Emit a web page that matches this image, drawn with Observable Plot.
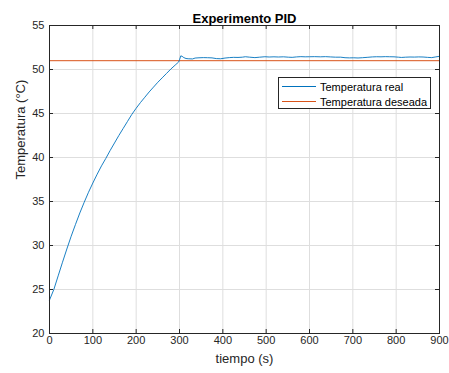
<!DOCTYPE html>
<html>
<head>
<meta charset="utf-8">
<script src="https://cdn.jsdelivr.net/npm/d3@7"></script>
<script src="https://cdn.jsdelivr.net/npm/@observablehq/plot@0.6"></script>
<style>
  body { margin: 0; background: #fff; font-family: "Liberation Sans", Arial, sans-serif; }
  #wrap { position: relative; width: 449px; height: 373px; }
  .legend { position: absolute; left: 278px; top: 77px; width: 153px; height: 32px; box-sizing: border-box;
            border: 1px solid #262626; background: #fff; padding-top: 1px; font-size: 11px; color: #000; }
  .row { display: flex; align-items: center; height: 15px; }
  .sw { width: 34px; height: 0; margin-left: 3px; margin-right: 4px; border-top: 1px solid; }
</style>
</head>
<body>
<div id="wrap"></div>
<script>
// ---- data ----
const title = "Experimento PID";
const xLabel = "tiempo (s)";
const yLabel = "Temperatura (°C)";
const seriesNames = ["Temperatura real", "Temperatura deseada"];
const seriesColors = ["#0072BD", "#D95319"];
const xTicks = [0, 100, 200, 300, 400, 500, 600, 700, 800, 900];
const yTicks = [20, 25, 30, 35, 40, 45, 50, 55];
const setpoint = 51;

const tiempo = [
  0, 10, 20, 30, 40, 50, 60, 70, 80, 90,
  100, 110, 120, 130, 140, 150, 160, 170, 180, 190,
  200, 210, 220, 230, 240, 250, 260, 270, 280, 290,
  298, 300, 303, 306, 310, 315, 320, 330, 336, 345,
  355, 365, 375, 385, 395, 405, 415, 425, 435, 445,
  452, 462, 474, 485, 497, 507, 518, 528, 540, 551,
  560, 570, 580, 590, 600, 612, 625, 637, 648, 660,
  672, 682, 692, 702, 712, 722, 733, 745, 755, 765,
  775, 785, 795, 805, 812, 822, 832, 842, 852, 862,
  872, 882, 890, 900
];
const temperatura = [
  23.8, 25.0, 26.55, 28.1, 29.6, 31.05, 32.4, 33.7, 34.9, 36.05,
  37.1, 38.1, 39.05, 39.9, 40.8, 41.65, 42.5, 43.3, 44.1, 44.9,
  45.6, 46.25, 46.85, 47.45, 48.0, 48.55, 49.05, 49.55, 50.05, 50.5,
  50.85, 51.1, 51.55, 51.5, 51.35, 51.25, 51.22, 51.2, 51.3, 51.33,
  51.35, 51.34, 51.32, 51.24, 51.22, 51.3, 51.35, 51.38, 51.37, 51.4,
  51.45, 51.4, 51.35, 51.4, 51.45, 51.42, 51.44, 51.42, 51.44, 51.4,
  51.38, 51.43, 51.46, 51.44, 51.45, 51.46, 51.44, 51.46, 51.43, 51.4,
  51.4, 51.34, 51.32, 51.33, 51.31, 51.34, 51.38, 51.43, 51.45, 51.44,
  51.46, 51.45, 51.44, 51.4, 51.37, 51.4, 51.42, 51.41, 51.43, 51.42,
  51.38, 51.35, 51.42, 51.5
];

const data = tiempo.map((t, i) => ({t, v: temperatura[i]}));

const W = 449, H = 373, mt = 25, mb = 40, ml = 49, mr = 10;
const pw = W - ml - mr, ph = H - mt - mb;
const ink = "#262626";

const chart = Plot.plot({
  width: W, height: H,
  marginTop: mt, marginBottom: mb, marginLeft: ml, marginRight: mr,
  style: { fontFamily: "'Liberation Sans', Arial, sans-serif", fontSize: "11px", color: ink, background: "white" },
  x: { domain: [0, 900], label: null },
  y: { domain: [20, 55], label: null },
  marks: [
    Plot.gridX(xTicks, { stroke: "#dedede", strokeOpacity: 1 }),
    Plot.gridY(yTicks, { stroke: "#dedede", strokeOpacity: 1 }),
    Plot.axisX(xTicks, { tickSize: 0, tickPadding: 3, label: null, fontSize: 11, fill: ink }),
    Plot.axisY(yTicks, { tickSize: 0, tickPadding: 5, label: null, fontSize: 11, fill: ink }),
    Plot.tickX(xTicks, { x: d => d, insetTop: ph - 4, stroke: ink }),
    Plot.tickX(xTicks, { x: d => d, insetBottom: ph - 4, stroke: ink }),
    Plot.tickY(yTicks, { y: d => d, insetRight: pw - 4, stroke: ink }),
    Plot.tickY(yTicks, { y: d => d, insetLeft: pw - 4, stroke: ink }),
    Plot.ruleY([setpoint], { stroke: seriesColors[1], strokeWidth: 1 }),
    Plot.line(data, { x: "t", y: "v", stroke: seriesColors[0], strokeWidth: 0.9 }),
    Plot.frame({ stroke: ink, strokeWidth: 1 }),
    Plot.text([title], { frameAnchor: "top", dy: -12, fontWeight: "bold", fontSize: 13, fill: "#000" }),
    Plot.text([xLabel], { frameAnchor: "bottom", dy: 29, fontSize: 13, fill: ink }),
    Plot.text([yLabel], { frameAnchor: "left", dx: -29, rotate: -90, fontSize: 13, fill: ink })
  ]
});

const wrap = document.getElementById("wrap");
wrap.appendChild(chart);

const legend = document.createElement("div");
legend.className = "legend";
seriesNames.forEach((name, i) => {
  const row = document.createElement("div");
  row.className = "row";
  const sw = document.createElement("span");
  sw.className = "sw";
  sw.style.borderTopColor = seriesColors[i];
  const lab = document.createElement("span");
  lab.textContent = name;
  row.appendChild(sw);
  row.appendChild(lab);
  legend.appendChild(row);
});
wrap.appendChild(legend);
</script>
</body>
</html>
